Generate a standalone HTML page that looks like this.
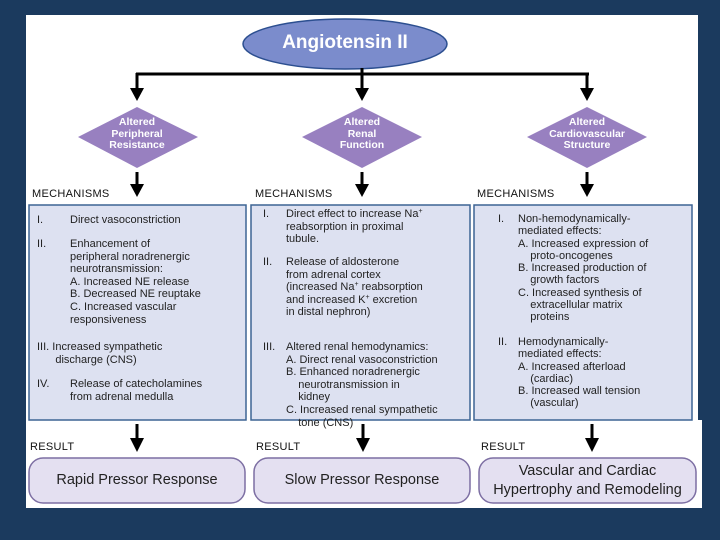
<!DOCTYPE html>
<html><head><meta charset="utf-8"><style>
*{margin:0;padding:0}
body{width:720px;height:540px;background:#1b3a5e;position:relative;overflow:hidden;font-family:"Liberation Sans",sans-serif}
.t{position:absolute;font-size:11px;color:#222;white-space:nowrap;line-height:12.6px}
.t sup{font-size:7px;line-height:0;vertical-align:4px}
.h{position:absolute;font-size:11px;color:#111;letter-spacing:0.3px}
.r{position:absolute;font-size:14.5px;color:#222;text-align:center;display:flex;align-items:center;justify-content:center;line-height:19px}
</style></head><body>
<svg width="720" height="540" style="position:absolute;left:0;top:0">
<rect x="26" y="15" width="672" height="407" fill="#fff"/>
<rect x="26" y="420" width="676" height="88" fill="#fff"/>
<ellipse cx="345" cy="44" rx="102" ry="25" fill="#7b8ccc" stroke="#2c4f90" stroke-width="1.5"/>
<g stroke="#000" stroke-width="3" fill="none">
<line x1="362" y1="68" x2="362" y2="90"/>
<line x1="136" y1="74" x2="589" y2="74"/>
<line x1="137" y1="73" x2="137" y2="90"/>
<line x1="587" y1="73" x2="587" y2="90"/>
<line x1="137" y1="172" x2="137" y2="186"/>
<line x1="362" y1="172" x2="362" y2="186"/>
<line x1="587" y1="172" x2="587" y2="186"/>
<line x1="137" y1="424" x2="137" y2="440"/>
<line x1="363" y1="424" x2="363" y2="440"/>
<line x1="592" y1="424" x2="592" y2="440"/>
</g>
<g fill="#000">
<polygon points="130,88 144,88 137,101"/><polygon points="355,88 369,88 362,101"/><polygon points="580,88 594,88 587,101"/>
<polygon points="130,184 144,184 137,197"/><polygon points="355,184 369,184 362,197"/><polygon points="580,184 594,184 587,197"/>
<polygon points="130,438 144,438 137,452"/><polygon points="356,438 370,438 363,452"/><polygon points="585,438 599,438 592,452"/>
</g>
<g fill="#9880c0">
<polygon points="137,107 198,137 137,168 78,137"/>
<polygon points="362,107 422,137 362,168 302,137"/>
<polygon points="587,107 647,137 587,168 527,137"/>
</g>
<g fill="#dde1f1" stroke="#3d6494" stroke-width="1.5">
<rect x="29" y="205" width="217" height="215"/>
<rect x="251" y="205" width="219" height="215"/>
<rect x="474" y="205" width="218" height="215"/>
</g>
<g fill="#e4e0f1" stroke="#7d6fa3" stroke-width="1.5">
<rect x="29" y="458" width="216" height="45" rx="14"/>
<rect x="254" y="458" width="216" height="45" rx="14"/>
<rect x="479" y="458" width="217" height="45" rx="14"/>
</g>
</svg>
<div style="position:absolute;left:243px;top:32px;width:204px;text-align:center;color:#fff;font-weight:bold;font-size:19px">Angiotensin II</div>
<div style="position:absolute;left:87px;top:117px;width:100px;text-align:center;color:#fff;font-weight:bold;font-size:10.5px;line-height:11.5px">Altered<br>Peripheral<br>Resistance</div>
<div style="position:absolute;left:312px;top:117px;width:100px;text-align:center;color:#fff;font-weight:bold;font-size:10.5px;line-height:11.5px">Altered<br>Renal<br>Function</div>
<div style="position:absolute;left:527px;top:117px;width:120px;text-align:center;color:#fff;font-weight:bold;font-size:10.5px;line-height:11.5px">Altered<br>Cardiovascular<br>Structure</div>
<div class="h" style="left:32px;top:188px">MECHANISMS</div>
<div class="h" style="left:255px;top:188px">MECHANISMS</div>
<div class="h" style="left:477px;top:188px">MECHANISMS</div>
<div class="h" style="left:30px;top:441px">RESULT</div>
<div class="h" style="left:256px;top:441px">RESULT</div>
<div class="h" style="left:481px;top:441px">RESULT</div>
<!-- col1 -->
<div class="t" style="left:37px;top:214px">I.</div><div class="t" style="left:70px;top:214px">Direct vasoconstriction</div>
<div class="t" style="left:37px;top:238px">II.</div><div class="t" style="left:70px;top:238px">Enhancement of<br>peripheral noradrenergic<br>neurotransmission:<br>A. Increased NE release<br>B. Decreased NE reuptake<br>C. Increased vascular<br>responsiveness</div>
<div class="t" style="left:37px;top:341px">III. Increased sympathetic<br>&nbsp;&nbsp;&nbsp;&nbsp;&nbsp;&nbsp;discharge (CNS)</div>
<div class="t" style="left:37px;top:378px">IV.</div><div class="t" style="left:70px;top:378px">Release of catecholamines<br>from adrenal medulla</div>
<!-- col2 -->
<div class="t" style="left:263px;top:208px">I.</div><div class="t" style="left:286px;top:208px">Direct effect to increase Na<sup>+</sup><br>reabsorption in proximal<br>tubule.</div>
<div class="t" style="left:263px;top:256px">II.</div><div class="t" style="left:286px;top:256px">Release of aldosterone<br>from adrenal cortex<br>(increased Na<sup>+</sup> reabsorption<br>and increased K<sup>+</sup> excretion<br>in distal nephron)</div>
<div class="t" style="left:263px;top:341px">III.</div><div class="t" style="left:286px;top:341px">Altered renal hemodynamics:<br>A. Direct renal vasoconstriction<br>B. Enhanced noradrenergic<br>&nbsp;&nbsp;&nbsp;&nbsp;neurotransmission in<br>&nbsp;&nbsp;&nbsp;&nbsp;kidney<br>C. Increased renal sympathetic<br>&nbsp;&nbsp;&nbsp;&nbsp;tone (CNS)</div>
<!-- col3 -->
<div class="t" style="left:498px;top:213px">I.</div><div class="t" style="left:518px;top:213px;line-height:12.3px">Non-hemodynamically-<br>mediated effects:<br>A. Increased expression of<br>&nbsp;&nbsp;&nbsp;&nbsp;proto-oncogenes<br>B. Increased production of<br>&nbsp;&nbsp;&nbsp;&nbsp;growth factors<br>C. Increased synthesis of<br>&nbsp;&nbsp;&nbsp;&nbsp;extracellular matrix<br>&nbsp;&nbsp;&nbsp;&nbsp;proteins</div>
<div class="t" style="left:498px;top:336px">II.</div><div class="t" style="left:518px;top:336px;line-height:12.3px">Hemodynamically-<br>mediated effects:<br>A. Increased afterload<br>&nbsp;&nbsp;&nbsp;&nbsp;(cardiac)<br>B. Increased wall tension<br>&nbsp;&nbsp;&nbsp;&nbsp;(vascular)</div>
<div class="r" style="left:29px;top:458px;width:216px;height:45px">Rapid Pressor Response</div>
<div class="r" style="left:254px;top:458px;width:216px;height:45px">Slow Pressor Response</div>
<div class="r" style="left:479px;top:458px;width:217px;height:45px">Vascular and Cardiac<br>Hypertrophy and Remodeling</div>
</body></html>
